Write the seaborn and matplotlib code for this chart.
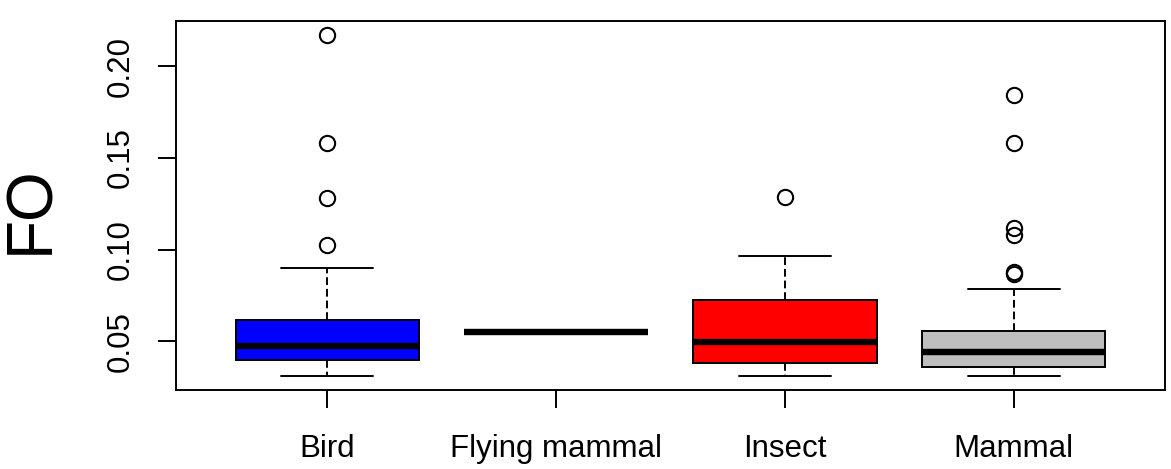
import pandas as pd
import matplotlib.pyplot as plt
import seaborn as sns

# FO values per prey group
groups = ['Bird', 'Flying mammal', 'Insect', 'Mammal']
bird = [0.0309, 0.0330, 0.0350, 0.0370, 0.0385, 0.0398, 0.0410, 0.0430, 0.0445,
        0.0460, 0.0474, 0.0490, 0.0510, 0.0540, 0.0580, 0.0614, 0.0899,
        0.1028, 0.1284, 0.1584, 0.2172]
flying_mammal = [0.0551, 0.0551, 0.0551]
insect = [0.0311, 0.0340, 0.0360, 0.0382, 0.0420, 0.0460, 0.0496, 0.0560, 0.0640,
          0.0727, 0.0830, 0.0968, 0.1288]
mammal = [0.0311, 0.0318, 0.0324, 0.0330, 0.0335, 0.0340, 0.0346, 0.0352, 0.0358,
          0.0365, 0.0372, 0.0380, 0.0392, 0.0405, 0.0418, 0.0430, 0.0440, 0.0452,
          0.0465, 0.0478, 0.0490, 0.0505, 0.0520, 0.0537, 0.0554, 0.0620, 0.0783,
          0.0870, 0.0876, 0.1080, 0.1120, 0.1584, 0.1845]
colors = ['#0000FF', '#FFFFFF', '#FF0000', '#BEBEBE']
yticks = [0.05, 0.10, 0.15, 0.20]

df = pd.DataFrame({
    'group': ['Bird'] * len(bird) + ['Flying mammal'] * len(flying_mammal)
             + ['Insect'] * len(insect) + ['Mammal'] * len(mammal),
    'FO': bird + flying_mammal + insect + mammal,
})

sns.set_style("ticks")
plt.rcParams['font.family'] = ['Liberation Sans', 'DejaVu Sans']
plt.rcParams.update({'text.color': 'black', 'axes.edgecolor': 'black',
                     'xtick.color': 'black', 'ytick.color': 'black',
                     'xtick.labelcolor': 'black', 'ytick.labelcolor': 'black'})

fig, ax = plt.subplots(figsize=(11.71, 4.69), dpi=100)
fig.subplots_adjust(left=176 / 1171, right=1165 / 1171, bottom=1 - 390 / 469, top=1 - 21 / 469)

sns.boxplot(data=df, x='group', y='FO', hue='group', order=groups, hue_order=groups,
            palette=colors, saturation=1, legend=False, width=0.8, whis=1.5,
            linecolor='black', linewidth=1.4, ax=ax,
            medianprops=dict(linewidth=4.6, color='black', solid_capstyle='butt'),
            whiskerprops=dict(linestyle=(0, (4, 2)), linewidth=1.4),
            capprops=dict(linewidth=1.4),
            flierprops=dict(marker='o', markerfacecolor='none', markeredgecolor='black',
                            markersize=11, markeredgewidth=1.5))

ax.set_xlim(-0.66, 3.66)
ax.set_ylim(0.0235, 0.2247)
ax.set_yticks(yticks)
ax.set_yticklabels([f'{v:.2f}' for v in yticks])
for lab in ax.get_yticklabels():
    lab.set_rotation(90)
    lab.set_va('center')
ax.tick_params(axis='y', length=13, width=1.4, labelsize=22.5, pad=16)
ax.tick_params(axis='x', length=13, width=1.4, labelsize=22.5, pad=19)
for sp in ax.spines.values():
    sp.set_visible(True)
    sp.set_linewidth(1.4)
    sp.set_color('black')
ax.set_xlabel('')
ax.set_ylabel('')
fig.text(31 / 1171, 1 - 210 / 469, 'FO', rotation=90, ha='center', va='center',
         fontsize=46, color='black')

fig.savefig('out.png', dpi=100)
